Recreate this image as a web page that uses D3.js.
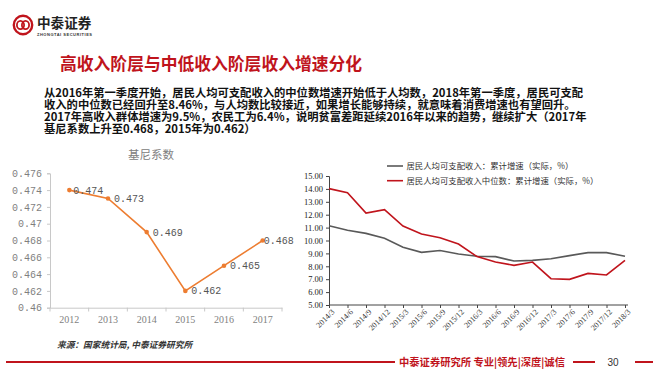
<!DOCTYPE html>
<html><head><meta charset="utf-8">
<script src="https://cdn.jsdelivr.net/npm/d3@7"></script>
<style>
html,body{margin:0;padding:0;background:#fff;}
svg{display:block;}
</style></head>
<body>
<svg id="c" width="659" height="390"></svg>
<script>
// ---------- data ----------
const giniYears = ["2012","2013","2014","2015","2016","2017"];
const giniValues = [0.474, 0.473, 0.469, 0.462, 0.465, 0.468];
const giniTicks = [0.46, 0.462, 0.464, 0.466, 0.468, 0.47, 0.472, 0.474, 0.476];

const quarters = ["2014/3","2014/6","2014/9","2014/12","2015/3","2015/6","2015/9","2015/12",
  "2016/3","2016/6","2016/9","2016/12","2017/3","2017/6","2017/9","2017/12","2018/3"];
const meanGrowth = [11.15, 10.80, 10.55, 10.17, 9.47, 9.08, 9.22, 8.95, 8.78, 8.75, 8.41, 8.46, 8.58, 8.83, 9.06, 9.06, 8.78];
const medianGrowth = [14.02, 13.70, 12.13, 12.39, 11.12, 10.50, 10.22, 9.73, 8.75, 8.33, 8.07, 8.33, 7.04, 6.99, 7.45, 7.33, 8.46];
const growthTicks = [5, 6, 7, 8, 9, 10, 11, 12, 13, 14, 15];
const seriesNames = ["居民人均可支配收入：累计增速（实际，%）", "居民人均可支配收入中位数：累计增速（实际，%）"];

const titleText = "高收入阶层与中低收入阶层收入增速分化";
const paraLines = [
  "从2016年第一季度开始，居民人均可支配收入的中位数增速开始低于人均数，2018年第一季度，居民可支配",
  "收入的中位数已经回升至8.46%，与人均数比较接近，如果增长能够持续，就意味着消费增速也有望回升。",
  "2017年高收入群体增速为9.5%，农民工为6.4%，说明贫富差距延续2016年以来的趋势，继续扩大（2017年",
  "基尼系数上升至0.468，2015年为0.462）"
];

const svg = d3.select("#c");
const CJK = "'Noto Sans CJK SC','Noto Sans',sans-serif";
const RED = "#c0141c";

// ---------- header ----------
const logo = svg.append("g");
logo.append("circle").attr("cx",23).attr("cy",25).attr("r",9.2).attr("fill","none").attr("stroke",RED).attr("stroke-width",2.4);
logo.append("ellipse").attr("cx",20.5).attr("cy",25).attr("rx",3.6).attr("ry",4.2).attr("fill","none").attr("stroke",RED).attr("stroke-width",1.8);
logo.append("ellipse").attr("cx",25.5).attr("cy",25).attr("rx",3.6).attr("ry",4.2).attr("fill","none").attr("stroke",RED).attr("stroke-width",1.8);
svg.append("text").attr("x",37).attr("y",27.5).attr("font-family",CJK).attr("font-weight","bold")
  .attr("font-size",13.6).attr("fill","#222").text("中泰证券");
svg.append("text").attr("x",37).attr("y",35.5).attr("font-family","'Liberation Sans',sans-serif").attr("font-weight","bold")
  .attr("font-size",4).attr("fill","#333").attr("textLength",55).text("ZHONGTAI SECURITIES");

svg.append("text").attr("x",60).attr("y",70).attr("font-family",CJK).attr("font-weight","bold")
  .attr("font-size",16.8).attr("fill",RED).text(titleText);

const para = svg.append("text").attr("font-family",CJK).attr("font-weight","bold").attr("font-size",11.3).attr("fill","#111");
paraLines.forEach((t,i)=>para.append("tspan").attr("x",44).attr("y",97+i*12).text(t));

// ---------- left chart: Gini ----------
const xL = d3.scaleBand().domain(giniYears).range([50, 282]);
const yL = d3.scaleLinear().domain([0.46, 0.476]).range([307.7, 173.3]);
const gL = svg.append("g");
gL.append("text").attr("x",151).attr("y",159).attr("text-anchor","middle").attr("font-family",CJK)
  .attr("font-size",11.5).attr("fill","#808080").text("基尼系数");

const axL = gL.append("g").attr("transform","translate(50,0)")
  .call(d3.axisLeft(yL).tickValues(giniTicks).tickSize(3).tickPadding(5).tickFormat(d=>String(+d.toFixed(3))));
axL.select(".domain").attr("stroke","#c8c8c8");
axL.selectAll(".tick line").attr("stroke","#c8c8c8");
axL.selectAll(".tick text").attr("font-family","'Liberation Mono',monospace").attr("font-size",10).attr("fill","#7f7f7f");

const axB = gL.append("g").attr("transform","translate(0,307.7)")
  .call(d3.axisBottom(xL).tickSize(0).tickPadding(8));
axB.select(".domain").attr("stroke","#c8c8c8");
axB.selectAll(".tick text").attr("font-family","'Liberation Serif',serif").attr("font-size",10).attr("fill","#7f7f7f");
const bounds = giniYears.map(d=>xL(d)).concat([xL.range()[1]]);
gL.selectAll(".btick").data(bounds).join("line").attr("x1",d=>d).attr("x2",d=>d)
  .attr("y1",307.7).attr("y2",311.5).attr("stroke","#c8c8c8");

const cx = d=>xL(d)+xL.bandwidth()/2;
const lineL = d3.line().x((d,i)=>cx(giniYears[i])).y(d=>yL(d));
gL.append("path").datum(giniValues).attr("d",lineL).attr("fill","none").attr("stroke","#ed7d31").attr("stroke-width",1.6);
gL.selectAll(".pt").data(giniValues).join("circle").attr("cx",(d,i)=>cx(giniYears[i])).attr("cy",d=>yL(d))
  .attr("r",2.3).attr("fill","#ed7d31");
gL.selectAll(".lbl").data(giniValues).join("text")
  .attr("x",(d,i)=>cx(giniYears[i])+(i===0?4:(i===5?1:6))).attr("y",d=>yL(d)).attr("dy","0.35em")
  .attr("font-family","'Liberation Mono',monospace").attr("font-size",10).attr("fill","#555")
  .text(d=>d.toFixed(3));

// ---------- right chart: income growth ----------
const xR = d3.scalePoint().domain(quarters).range([329, 625]);
const yR = d3.scaleLinear().domain([5, 15]).range([305, 176]);
const gR = svg.append("g");

const ayR = gR.append("g").attr("transform","translate(329,0)")
  .call(d3.axisLeft(yR).tickValues(growthTicks).tickSize(3).tickPadding(3).tickFormat(d=>d.toFixed(2)));
ayR.select(".domain").attr("stroke","#444");
ayR.selectAll(".tick line").attr("stroke","#444");
ayR.selectAll(".tick text").attr("font-family","'Liberation Serif',serif").attr("font-size",8.5).attr("fill","#222");

const axR = gR.append("g").attr("transform","translate(0,305)")
  .call(d3.axisBottom(xR).tickSize(3).tickPadding(2));
axR.select(".domain").attr("d","M329,0H628").attr("stroke","#444");
axR.selectAll(".tick line").attr("stroke","#444");
axR.selectAll(".tick text").attr("font-family","'Liberation Serif',serif").attr("font-size",8).attr("fill","#333")
  .attr("text-anchor","end").attr("dy",0).attr("transform","translate(2,4) rotate(-45)");

const lineR = d3.line().x((d,i)=>xR(quarters[i])).y(d=>yR(d));
gR.append("path").datum(meanGrowth).attr("d",lineR).attr("fill","none").attr("stroke","#595959").attr("stroke-width",1.6);
gR.append("path").datum(medianGrowth).attr("d",lineR).attr("fill","none").attr("stroke","#c0141c").attr("stroke-width",1.6);

const legColors = ["#595959","#c0141c"];
seriesNames.forEach((n,i)=>{
  const y = 166 + i*14.7;
  gR.append("line").attr("x1",387).attr("x2",403).attr("y1",y).attr("y2",y).attr("stroke",legColors[i]).attr("stroke-width",1.6);
  gR.append("text").attr("x",406.5).attr("y",y).attr("dy","0.35em").attr("font-family",CJK)
    .attr("font-size",8.4).attr("fill","#333").text(n);
});

// ---------- source & footer ----------
svg.append("text").attr("x",57).attr("y",348).attr("font-family",CJK).attr("font-style","italic").attr("font-weight","bold")
  .attr("font-size",8.7).attr("fill","#333").text("来源：国家统计局, 中泰证券研究所");

svg.append("line").attr("x1",6).attr("x2",395).attr("y1",362).attr("y2",362).attr("stroke",RED).attr("stroke-width",2);
svg.append("text").attr("x",399).attr("y",366).attr("font-family",CJK).attr("font-weight","bold")
  .attr("font-size",10.3).attr("fill",RED).text("中泰证券研究所 专业|领先|深度|诚信");
svg.append("line").attr("x1",573).attr("x2",595).attr("y1",362).attr("y2",362).attr("stroke",RED).attr("stroke-width",2);
svg.append("text").attr("x",613).attr("y",366).attr("text-anchor","middle").attr("font-family","'Liberation Sans Narrow','Liberation Sans',sans-serif")
  .attr("font-size",10).attr("fill","#333").text("30");
svg.append("line").attr("x1",635).attr("x2",653).attr("y1",362).attr("y2",362).attr("stroke",RED).attr("stroke-width",2);
</script>
</body></html>
